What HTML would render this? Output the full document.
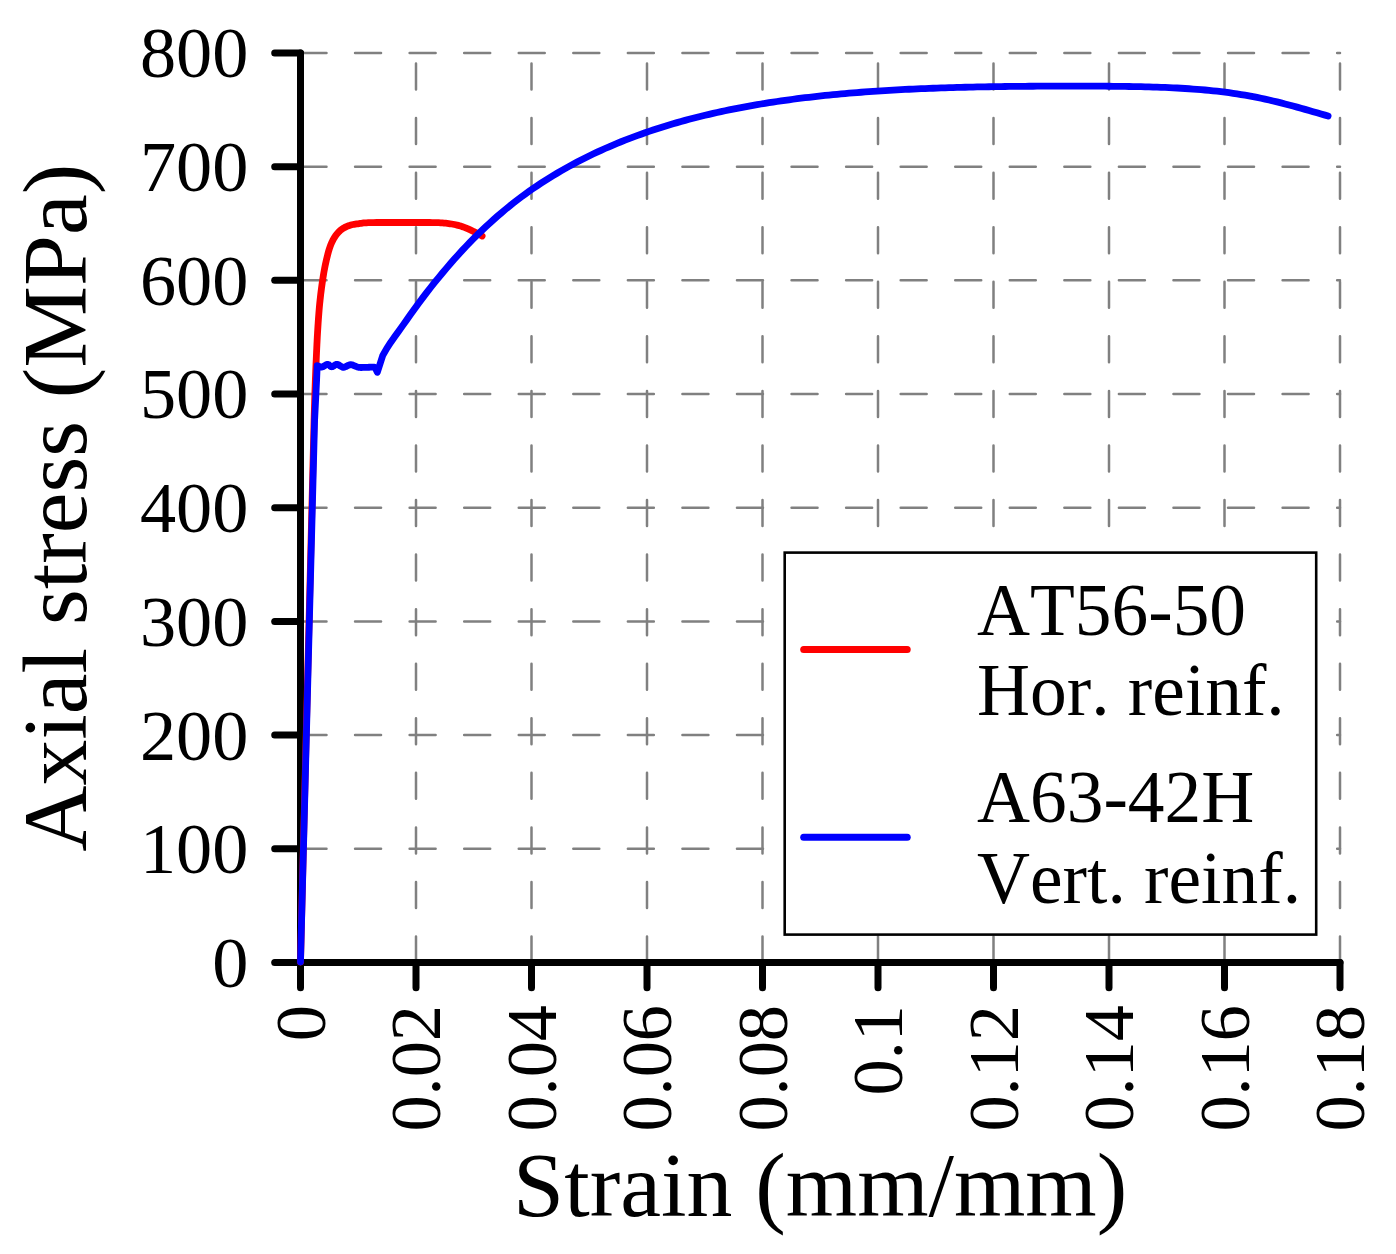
<!DOCTYPE html>
<html><head><meta charset="utf-8"><title>Stress-strain</title>
<style>
html,body{margin:0;padding:0;background:#fff;overflow:hidden;}
svg{display:block;}
text{font-kerning:none;font-family:"Liberation Serif",serif;fill:#000;}
.t{font-size:72.3px;}
.l{font-size:91.75px;}
.g{font-size:73.4px;}
</style></head><body>
<svg width="1396" height="1254" viewBox="0 0 1396 1254">
<rect width="1396" height="1254" fill="#fff"/>

<g stroke="#808080" stroke-width="2.5" stroke-linecap="round" stroke-dasharray="26 28.56" fill="none">
<path d="M300.5,848.81 H1340.0"/>
<path d="M300.5,735.12 H1340.0"/>
<path d="M300.5,621.43 H1340.0"/>
<path d="M300.5,507.74 H1340.0"/>
<path d="M300.5,394.05 H1340.0"/>
<path d="M300.5,280.36 H1340.0"/>
<path d="M300.5,166.67 H1340.0"/>
<path d="M300.5,52.98 H1340.0"/>
<path d="M416.00,962.5 V52.98"/>
<path d="M531.50,962.5 V52.98"/>
<path d="M647.00,962.5 V52.98"/>
<path d="M762.50,962.5 V52.98"/>
<path d="M878.00,962.5 V52.98"/>
<path d="M993.50,962.5 V52.98"/>
<path d="M1109.00,962.5 V52.98"/>
<path d="M1224.50,962.5 V52.98"/>
<path d="M1340.00,962.5 V52.98"/>
</g>
<g stroke="#000" stroke-width="7" stroke-linecap="round" stroke-linejoin="round" fill="none">
<path d="M300.5,52.98 V962.5 H1340.0"/>
<path d="M274.7,962.50 H300.5"/>
<path d="M274.7,848.81 H300.5"/>
<path d="M274.7,735.12 H300.5"/>
<path d="M274.7,621.43 H300.5"/>
<path d="M274.7,507.74 H300.5"/>
<path d="M274.7,394.05 H300.5"/>
<path d="M274.7,280.36 H300.5"/>
<path d="M274.7,166.67 H300.5"/>
<path d="M274.7,52.98 H300.5"/>
<path d="M300.50,962.5 V987.7"/>
<path d="M416.00,962.5 V987.7"/>
<path d="M531.50,962.5 V987.7"/>
<path d="M647.00,962.5 V987.7"/>
<path d="M762.50,962.5 V987.7"/>
<path d="M878.00,962.5 V987.7"/>
<path d="M993.50,962.5 V987.7"/>
<path d="M1109.00,962.5 V987.7"/>
<path d="M1224.50,962.5 V987.7"/>
<path d="M1340.00,962.5 V987.7"/>
</g>
<g fill="none" stroke-width="6.8" stroke-linecap="round" stroke-linejoin="round">
<path stroke="#ff0000" d="M300.50,962.00 L314.10,420.00 L314.17,417.69 L314.25,414.61 L314.36,410.95 L314.48,406.88 L314.60,402.57 L314.73,398.20 L314.87,393.96 L315.00,390.00 L315.13,386.25 L315.27,382.50 L315.41,378.75 L315.56,375.00 L315.71,371.25 L315.87,367.50 L316.03,363.75 L316.20,360.00 L316.37,356.22 L316.54,352.41 L316.72,348.59 L316.90,344.77 L317.09,340.98 L317.28,337.24 L317.49,333.57 L317.70,330.00 L317.92,326.52 L318.14,323.10 L318.37,319.74 L318.61,316.44 L318.86,313.19 L319.12,309.98 L319.40,306.82 L319.70,303.70 L320.02,300.60 L320.35,297.52 L320.70,294.48 L321.07,291.49 L321.44,288.56 L321.83,285.71 L322.21,282.95 L322.60,280.30 L322.99,277.77 L323.38,275.34 L323.77,273.01 L324.17,270.76 L324.58,268.57 L325.00,266.43 L325.44,264.31 L325.90,262.20 L326.38,260.09 L326.87,258.00 L327.37,255.93 L327.89,253.91 L328.42,251.95 L328.97,250.07 L329.53,248.28 L330.10,246.60 L330.69,245.03 L331.28,243.57 L331.89,242.20 L332.52,240.90 L333.16,239.67 L333.82,238.50 L334.50,237.38 L335.20,236.30 L335.92,235.26 L336.65,234.29 L337.39,233.38 L338.16,232.51 L338.95,231.70 L339.76,230.93 L340.61,230.20 L341.50,229.50 L342.43,228.84 L343.39,228.23 L344.38,227.66 L345.41,227.14 L346.45,226.65 L347.52,226.20 L348.60,225.78 L349.70,225.40 L350.80,225.06 L351.92,224.77 L353.05,224.52 L354.20,224.31 L355.38,224.12 L356.58,223.94 L357.82,223.77 L359.10,223.60 L360.31,223.43 L361.39,223.27 L362.43,223.13 L363.54,222.99 L364.81,222.87 L366.33,222.77 L368.20,222.68 L370.50,222.60 L373.39,222.54 L376.83,222.51 L380.65,222.49 L384.71,222.49 L388.84,222.49 L392.87,222.50 L396.64,222.50 L400.00,222.50 L402.96,222.49 L405.70,222.49 L408.25,222.48 L410.68,222.48 L413.01,222.48 L415.31,222.48 L417.63,222.49 L420.00,222.50 L422.44,222.51 L424.90,222.51 L427.36,222.51 L429.79,222.52 L432.17,222.54 L434.46,222.57 L436.65,222.62 L438.70,222.70 L440.61,222.80 L442.39,222.92 L444.08,223.05 L445.68,223.21 L447.21,223.38 L448.69,223.56 L450.15,223.77 L451.60,224.00 L453.02,224.25 L454.38,224.51 L455.69,224.79 L456.97,225.09 L458.22,225.41 L459.45,225.75 L460.67,226.11 L461.90,226.50 L463.14,226.93 L464.39,227.40 L465.64,227.90 L466.86,228.42 L468.06,228.94 L469.20,229.46 L470.29,229.95 L471.30,230.40 L472.23,230.82 L473.09,231.22 L473.89,231.61 L474.64,231.98 L475.36,232.34 L476.05,232.70 L476.73,233.05 L477.40,233.40 L478.09,233.76 L478.78,234.14 L479.47,234.52 L480.13,234.89 L480.74,235.23 L481.29,235.54 L481.75,235.80 L482.10,236.00"/>
<path stroke="#0000ff" d="M300.50,962.00 L314.60,420.00 L316.60,380.20 L317.20,365.60 L317.70,365.81 L318.39,366.15 L319.20,366.53 L320.09,366.86 L321.01,367.08 L321.90,367.10 L322.80,366.82 L323.75,366.29 L324.72,365.64 L325.70,365.00 L326.63,364.51 L327.50,364.30 L328.28,364.47 L329.00,364.93 L329.68,365.53 L330.35,366.14 L331.05,366.61 L331.80,366.80 L332.60,366.61 L333.42,366.13 L334.27,365.52 L335.14,364.91 L336.05,364.46 L337.00,364.30 L337.99,364.55 L339.01,365.10 L340.07,365.81 L341.16,366.51 L342.27,367.06 L343.40,367.30 L344.56,367.13 L345.75,366.66 L346.96,366.02 L348.20,365.39 L349.44,364.90 L350.70,364.70 L351.97,364.86 L353.27,365.28 L354.59,365.84 L355.90,366.43 L357.21,366.96 L358.50,367.30 L359.76,367.45 L360.99,367.50 L362.22,367.48 L363.45,367.41 L364.71,367.34 L366.00,367.30 L367.43,367.28 L369.01,367.24 L370.62,367.20 L372.12,367.16 L373.39,367.12 L374.30,367.10 L375.60,368.50 L377.36,372.30 L382.66,355.70 L386.66,348.54 L390.66,342.42 L394.66,336.77 L398.66,331.23 L402.66,325.64 L406.66,319.97 L410.66,314.32 L414.66,308.73 L418.66,303.25 L422.66,297.89 L426.66,292.64 L430.66,287.51 L434.66,282.49 L438.66,277.59 L442.64,272.79 L446.56,268.10 L450.48,263.52 L454.40,259.05 L458.32,254.68 L462.24,250.40 L466.16,246.23 L470.08,242.15 L474.00,238.17 L477.92,234.28 L481.84,230.48 L485.76,226.78 L489.68,223.15 L493.60,219.62 L497.52,216.17 L501.44,212.80 L505.36,209.50 L509.28,206.29 L513.20,203.16 L517.12,200.10 L521.06,197.11 L525.06,194.19 L529.06,191.34 L533.06,188.56 L537.06,185.85 L541.06,183.20 L545.06,180.62 L549.06,178.10 L553.06,175.64 L557.06,173.23 L561.06,170.89 L565.06,168.60 L569.06,166.37 L573.06,164.19 L577.06,162.06 L581.06,159.98 L585.06,157.95 L589.06,155.98 L593.06,154.04 L597.06,152.16 L601.06,150.32 L605.06,148.52 L609.06,146.77 L613.06,145.06 L617.06,143.39 L621.06,141.76 L625.06,140.17 L629.06,138.62 L633.06,137.10 L637.06,135.62 L641.06,134.18 L645.06,132.77 L649.06,131.39 L653.06,130.05 L657.06,128.74 L661.06,127.46 L665.06,126.21 L669.06,124.99 L673.06,123.80 L677.06,122.64 L681.06,121.51 L685.06,120.40 L689.06,119.33 L693.06,118.27 L697.06,117.25 L701.06,116.25 L705.06,115.28 L709.06,114.33 L713.06,113.40 L717.06,112.50 L721.06,111.62 L725.06,110.77 L729.06,109.94 L733.06,109.12 L737.06,108.33 L741.06,107.56 L745.06,106.81 L749.06,106.08 L753.06,105.37 L757.06,104.68 L761.06,104.01 L765.06,103.35 L769.06,102.72 L773.06,102.10 L777.06,101.50 L781.06,100.91 L785.06,100.34 L789.06,99.79 L793.06,99.25 L797.06,98.73 L801.06,98.23 L805.06,97.73 L809.06,97.26 L813.06,96.79 L817.06,96.35 L821.06,95.91 L825.06,95.49 L829.06,95.08 L833.06,94.68 L837.06,94.30 L841.06,93.93 L845.06,93.57 L849.06,93.22 L853.06,92.88 L857.06,92.56 L861.06,92.25 L865.06,91.94 L869.06,91.65 L873.06,91.37 L877.06,91.10 L881.06,90.83 L885.06,90.58 L889.06,90.34 L893.06,90.11 L897.06,89.88 L901.06,89.67 L905.06,89.46 L909.06,89.26 L913.06,89.07 L917.06,88.89 L921.06,88.71 L925.06,88.54 L929.06,88.38 L933.06,88.23 L937.06,88.08 L941.06,87.94 L945.06,87.81 L949.06,87.69 L953.06,87.57 L957.06,87.45 L961.06,87.34 L965.06,87.24 L969.06,87.15 L973.06,87.05 L977.06,86.97 L981.06,86.89 L985.06,86.81 L989.06,86.74 L993.06,86.67 L997.06,86.61 L1001.06,86.55 L1005.06,86.50 L1009.06,86.45 L1013.06,86.40 L1017.06,86.36 L1021.06,86.32 L1025.06,86.29 L1029.06,86.26 L1033.06,86.23 L1037.06,86.20 L1041.06,86.18 L1045.06,86.16 L1049.06,86.15 L1053.06,86.13 L1057.06,86.12 L1061.06,86.11 L1065.06,86.11 L1069.06,86.11 L1073.06,86.10 L1077.06,86.11 L1081.06,86.11 L1085.06,86.12 L1089.06,86.13 L1093.06,86.14 L1097.06,86.16 L1101.06,86.18 L1105.06,86.21 L1109.06,86.24 L1113.06,86.28 L1117.06,86.32 L1121.06,86.36 L1125.06,86.42 L1129.06,86.48 L1133.06,86.55 L1137.06,86.63 L1141.06,86.71 L1145.06,86.81 L1149.06,86.91 L1153.06,87.03 L1157.06,87.16 L1161.06,87.30 L1165.06,87.46 L1169.06,87.63 L1173.06,87.82 L1177.06,88.02 L1181.06,88.25 L1185.06,88.49 L1189.06,88.75 L1193.06,89.03 L1197.06,89.33 L1201.06,89.66 L1205.06,90.01 L1209.06,90.39 L1213.06,90.80 L1217.06,91.23 L1221.06,91.70 L1225.06,92.20 L1229.06,92.73 L1233.06,93.29 L1237.06,93.89 L1241.06,94.53 L1245.06,95.20 L1249.06,95.91 L1253.06,96.66 L1257.06,97.45 L1261.06,98.27 L1265.06,99.13 L1269.06,100.02 L1273.06,100.95 L1277.06,101.91 L1281.06,102.90 L1285.06,103.92 L1289.06,104.97 L1293.06,106.04 L1297.06,107.14 L1301.06,108.25 L1305.06,109.38 L1309.06,110.52 L1313.06,111.67 L1317.06,112.83 L1321.06,113.98 L1325.06,115.13 L1328.10,116.00"/>
</g>
<text class="t" text-anchor="end" x="248.4" y="986.90">0</text>
<text class="t" text-anchor="end" x="248.4" y="873.21">100</text>
<text class="t" text-anchor="end" x="248.4" y="759.52">200</text>
<text class="t" text-anchor="end" x="248.4" y="645.83">300</text>
<text class="t" text-anchor="end" x="248.4" y="532.14">400</text>
<text class="t" text-anchor="end" x="248.4" y="418.45">500</text>
<text class="t" text-anchor="end" x="248.4" y="304.76">600</text>
<text class="t" text-anchor="end" x="248.4" y="191.07">700</text>
<text class="t" text-anchor="end" x="248.4" y="77.38">800</text>
<text class="t" text-anchor="end" transform="translate(324.90,1005.0) rotate(-90)">0</text>
<text class="t" text-anchor="end" transform="translate(440.40,1005.0) rotate(-90)">0.02</text>
<text class="t" text-anchor="end" transform="translate(555.90,1005.0) rotate(-90)">0.04</text>
<text class="t" text-anchor="end" transform="translate(671.40,1005.0) rotate(-90)">0.06</text>
<text class="t" text-anchor="end" transform="translate(786.90,1005.0) rotate(-90)">0.08</text>
<text class="t" text-anchor="end" transform="translate(902.40,1005.0) rotate(-90)">0.1</text>
<text class="t" text-anchor="end" transform="translate(1017.90,1005.0) rotate(-90)">0.12</text>
<text class="t" text-anchor="end" transform="translate(1133.40,1005.0) rotate(-90)">0.14</text>
<text class="t" text-anchor="end" transform="translate(1248.90,1005.0) rotate(-90)">0.16</text>
<text class="t" text-anchor="end" transform="translate(1364.40,1005.0) rotate(-90)">0.18</text>
<text class="l" text-anchor="middle" x="820.2" y="1216.3">Strain (mm/mm)</text>
<text class="l" text-anchor="middle" transform="translate(85.7,507.8) rotate(-90)">Axial stress (MPa)</text>
<rect x="784.7" y="552.6" width="531.5" height="382.0" fill="#fff" stroke="#000" stroke-width="2.6"/>
<g fill="none" stroke-width="7" stroke-linecap="round"><path stroke="#ff0000" d="M803.7,649.4 H907.2"/><path stroke="#0000ff" d="M803.7,837.3 H907.2"/></g>
<text class="g" x="977" y="634.5">AT56-50</text>
<text class="g" x="977" y="715">Hor. reinf.</text>
<text class="g" x="977" y="821.6">A63-42H</text>
<text class="g" x="977" y="903.1">Vert. reinf.</text>
</svg></body></html>
